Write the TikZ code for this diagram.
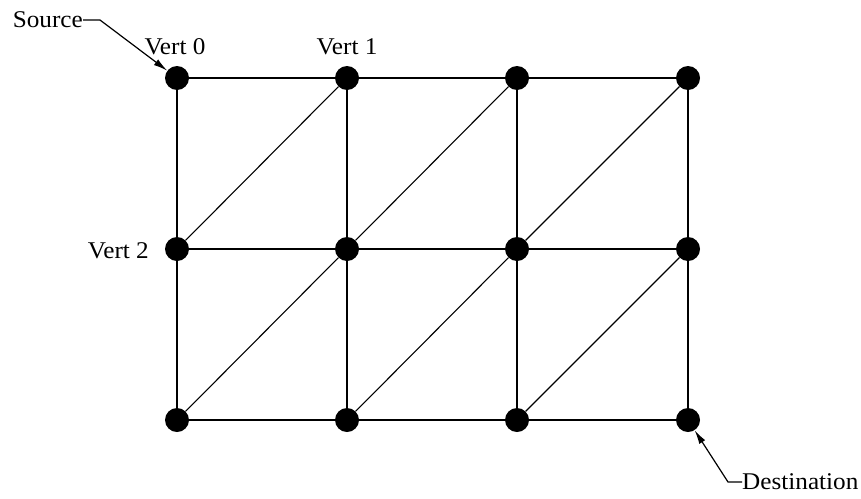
\documentclass[tikz,border=0pt]{standalone}
\usepackage{fontspec}
\setmainfont{Liberation Serif}
\usetikzlibrary{arrows.meta}
\newcommand{\widetext}[1]{\scalebox{1.05}[1]{#1}}

\begin{document}
\begin{tikzpicture}[x=1pt, y=-1pt,
    dot/.style={circle, fill=black, inner sep=0pt, minimum size=24pt},
    edge/.style={line width=1.9pt},
    diag/.style={line width=1.1pt},
    lbl/.style={inner sep=0pt, font=\fontsize{24}{26}\selectfont},
    ptr/.style={line width=1.2pt, -{Latex[length=14pt, width=7pt]}},
  ]
  \useasboundingbox (0,0) rectangle (861,498);

  % vertices of the mesh
  \foreach \c/\x in {0/177, 1/347, 2/517, 3/688}
    \foreach \r/\y in {0/78, 1/249, 2/420}
      \node[dot] (v\r\c) at (\x,\y) {};

  % grid edges
  \foreach \r in {0,1,2}
    \draw[edge] (v\r0) -- (v\r1) -- (v\r2) -- (v\r3);
  \foreach \c in {0,...,3}
    \draw[edge] (v0\c) -- (v1\c) -- (v2\c);

  % diagonals
  \foreach \r/\s in {1/0, 2/1}
    \foreach \c/\d in {0/1, 1/2, 2/3}
      \draw[diag] (v\r\c) -- (v\s\d);

  % labels
  \node[lbl] (vert0) at (175,47) {\widetext{Vert 0}};
  \node[lbl] (vert1) at (347,47) {\widetext{Vert 1}};
  \node[lbl, anchor=east] (vert2) at (149,251) {\widetext{Vert 2}};
  \node[lbl, anchor=east] (src) at (83,20) {\widetext{Source}};
  \node[lbl, anchor=west] (dst) at (742,482) {\widetext{Destination}};

  % pointers
  \draw[ptr] (src.east) -- ++(17,0) -- (v00);
  \draw[ptr] (dst.west) -- ++(-14,0) -- (v23);
\end{tikzpicture}
\end{document}
